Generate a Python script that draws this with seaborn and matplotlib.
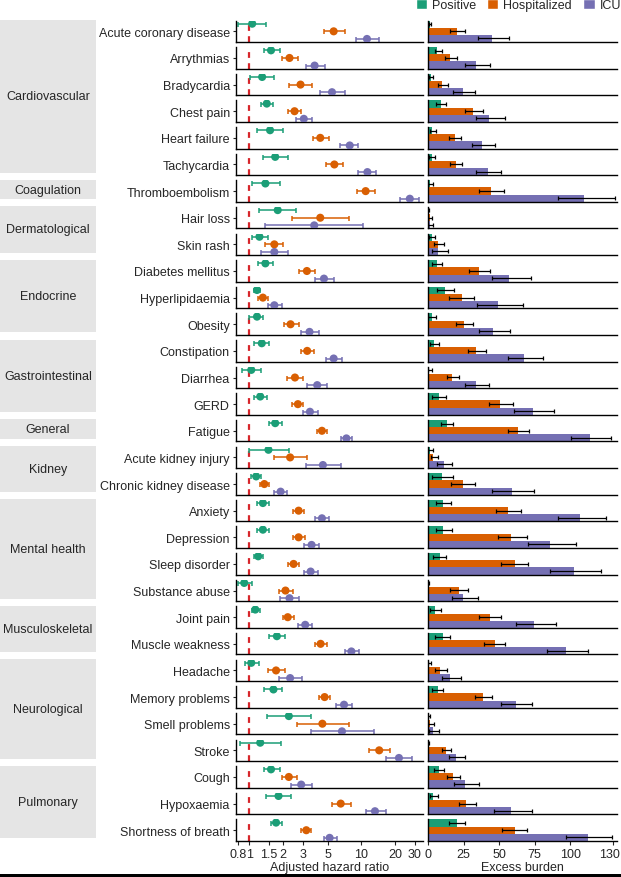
import matplotlib
matplotlib.use("Agg")
import matplotlib.pyplot as plt
import matplotlib.transforms as mtransforms
from matplotlib.patches import Patch, Rectangle
from matplotlib.ticker import NullLocator
import numpy as np
import pandas as pd
import seaborn as sns

# ---- data ----
categories = ["Cardiovascular"] * 6 + ["Coagulation"] + ["Dermatological"] * 2 + \
    ["Endocrine"] * 3 + ["Gastrointestinal"] * 3 + ["General"] + ["Kidney"] * 2 + \
    ["Mental health"] * 4 + ["Musculoskeletal"] * 2 + ["Neurological"] * 4 + ["Pulmonary"] * 3
conditions = ["Acute coronary disease", "Arrythmias", "Bradycardia", "Chest pain",
              "Heart failure", "Tachycardia", "Thromboembolism", "Hair loss", "Skin rash",
              "Diabetes mellitus", "Hyperlipidaemia", "Obesity", "Constipation", "Diarrhea",
              "GERD", "Fatigue", "Acute kidney injury", "Chronic kidney disease", "Anxiety",
              "Depression", "Sleep disorder", "Substance abuse", "Joint pain",
              "Muscle weakness", "Headache", "Memory problems", "Smell problems", "Stroke",
              "Cough", "Hypoxaemia", "Shortness of breath"]
groups = ["Positive", "Hospitalized", "ICU"]

hr_pos = [1.06, 1.56, 1.30, 1.43, 1.53, 1.70, 1.39, 1.79, 1.23, 1.39, 1.17, 1.17, 1.29, 1.04, 1.25,
          1.70, 1.48, 1.15, 1.32, 1.32, 1.20, 0.90, 1.13, 1.76, 1.04, 1.64, 2.25, 1.25, 1.56, 1.82, 1.73]
pos_lo = [0.79, 1.34, 1.01, 1.27, 1.16, 1.32, 1.05, 1.23, 1.05, 1.20, 1.09, 1.00, 1.11, 0.86, 1.11,
          1.49, 1.00, 1.04, 1.17, 1.17, 1.11, 0.79, 1.05, 1.51, 0.92, 1.36, 1.43, 0.83, 1.34, 1.41, 1.56]
pos_hi = [1.41, 1.86, 1.67, 1.62, 1.99, 2.20, 1.86, 2.62, 1.46, 1.62, 1.25, 1.33, 1.51, 1.26, 1.43,
          1.95, 2.25, 1.27, 1.49, 1.51, 1.32, 1.06, 1.25, 2.09, 1.21, 1.96, 3.57, 1.92, 1.86, 2.36, 1.95]

hr_hosp = [5.65, 2.28, 2.86, 2.53, 4.29, 5.73, 10.9, 4.29, 1.67, 3.26, 1.32, 2.33, 3.28, 2.55, 2.71,
           4.44, 2.31, 1.36, 2.75, 2.75, 2.48, 2.10, 2.20, 4.32, 1.73, 4.69, 4.48, 14.4, 2.25, 6.53, 3.22]
hosp_lo = [4.6, 1.96, 2.28, 2.23, 3.69, 4.86, 9.1, 2.41, 1.39, 2.80, 1.19, 2.03, 2.90, 2.17, 2.39,
           4.0, 1.65, 1.25, 2.44, 2.44, 2.23, 1.82, 1.99, 3.87, 1.48, 4.18, 2.65, 11.6, 1.95, 5.46, 2.90]
hosp_hi = [7.1, 2.71, 3.64, 2.86, 5.13, 6.84, 13.2, 7.7, 1.99, 3.82, 1.46, 2.75, 3.76, 3.0, 3.04,
           4.92, 3.26, 1.51, 3.06, 3.11, 2.75, 2.44, 2.48, 4.92, 2.10, 5.28, 7.7, 17.9, 2.65, 8.02, 3.57]

hr_icu = [11.2, 3.82, 5.46, 3.06, 7.86, 11.3, 27.0, 3.79, 1.67, 4.63, 1.67, 3.44, 5.65, 4.03, 3.47,
          7.34, 4.53, 1.90, 4.44, 3.59, 3.52, 2.28, 3.15, 8.13, 2.31, 6.99, 6.70, 21.6, 2.90, 13.2, 5.2]
icu_lo = [9.0, 3.17, 4.23, 2.62, 6.4, 9.3, 22.0, 1.38, 1.26, 3.82, 1.46, 2.90, 4.79, 3.28, 3.0,
          6.62, 3.17, 1.65, 3.87, 3.06, 3.06, 1.86, 2.71, 7.1, 1.83, 5.97, 3.52, 16.7, 2.33, 10.9, 4.63]
icu_hi = [14.3, 4.69, 7.1, 3.61, 9.4, 13.6, 32.8, 10.3, 2.23, 5.69, 1.95, 4.18, 6.66, 4.92, 4.09,
          8.3, 6.53, 2.17, 5.10, 4.18, 4.09, 2.80, 3.61, 9.45, 2.96, 8.24, 12.9, 28.4, 3.61, 16.4, 6.05]

bur_pos = [1.4, 6.6, 1.9, 9.0, 2.6, 2.6, 1.2, 0.5, 2.6, 6.1, 12.0, 3.1, 4.2, 0.9, 7.8,
           13.2, 1.2, 10.1, 10.6, 10.6, 8.4, 0.7, 4.8, 10.8, 0.7, 6.7, 0.7, 0.5, 7.9, 3.6, 20.3]
bur_pos_lo = [0.5, 4.7, 0.7, 5.4, 1.2, 0.7, 0.2, 0.0, 0.7, 2.6, 6.1, 0.2, 1.4, 0.2, 2.6,
              8.9, 0.2, 3.1, 5.4, 5.4, 3.8, 0.0, 1.2, 4.8, 0.2, 3.1, 0.0, 0.0, 4.3, 1.4, 15.1]
bur_pos_hi = [2.2, 10.1, 3.8, 13.0, 5.4, 4.7, 3.5, 0.7, 4.7, 9.7, 18.4, 5.9, 7.8, 2.6, 12.5,
              17.7, 3.5, 17.9, 16.0, 16.7, 12.7, 0.7, 9.1, 15.6, 2.4, 10.3, 1.4, 0.7, 11.5, 6.7, 25.8]

bur_hosp = [20.7, 15.5, 10.1, 31.8, 18.8, 19.5, 44.3, 1.2, 7.3, 36.0, 23.6, 25.4, 34.1, 17.2, 50.9,
            63.1, 3.8, 24.7, 56.0, 58.4, 61.0, 21.8, 43.3, 46.9, 8.6, 39.0, 1.4, 12.7, 17.5, 27.0, 61.0]
bur_hosp_lo = [15.5, 11.8, 7.3, 26.1, 14.8, 15.5, 36.0, 0.2, 4.2, 29.0, 14.8, 19.5, 28.3, 13.2, 42.6,
               56.0, 1.9, 16.5, 47.8, 49.5, 51.7, 15.8, 35.9, 39.7, 5.0, 33.0, 0.2, 9.8, 13.2, 21.5, 52.2]
bur_hosp_hi = [26.1, 20.3, 14.4, 38.9, 23.1, 23.8, 53.7, 3.0, 11.3, 43.8, 32.5, 32.0, 40.7, 21.9, 59.6,
               70.9, 7.1, 33.2, 65.5, 69.5, 70.6, 27.8, 51.4, 54.5, 13.2, 45.0, 4.3, 16.3, 22.7, 33.7, 69.6]

bur_icu = [45.0, 33.7, 24.3, 43.1, 37.9, 41.9, 109.7, 1.4, 7.3, 57.2, 49.5, 45.9, 67.8, 33.7, 73.7,
           113.7, 11.3, 59.1, 107.2, 86.2, 102.9, 24.6, 74.9, 97.1, 15.8, 62.2, 3.6, 19.9, 26.3, 58.6, 112.4]
bur_icu_lo = [35.3, 25.9, 17.7, 33.7, 30.9, 34.1, 91.4, 0.2, 2.6, 44.7, 34.4, 36.0, 56.0, 25.9, 60.3,
              100.3, 6.1, 44.7, 91.4, 70.2, 86.1, 16.7, 61.7, 83.7, 9.8, 51.7, 0.7, 15.1, 18.2, 46.7, 97.1]
bur_icu_hi = [57.2, 43.6, 33.0, 54.4, 47.1, 51.3, 131.4, 3.8, 14.1, 72.5, 66.6, 57.7, 80.8, 43.1, 89.0,
              129.0, 17.2, 74.9, 125.0, 103.9, 121.5, 34.9, 90.4, 112.4, 23.0, 73.2, 7.9, 26.3, 35.9, 73.0, 129.2]

hr_ticks = [0.8, 1, 1.5, 2, 3, 5, 10, 20, 30]
hr_tick_labels = ["0.8", "1", "1.5", "2", "3", "5", "10", "20", "30"]
bur_ticks = [0, 25, 50, 75, 100, 130]

palette = {"Positive": "#1b9e77", "Hospitalized": "#d95f02", "ICU": "#7570b3"}

# long tables built from the lists above
hr_df = pd.DataFrame({
    "condition": np.repeat(conditions, 3),
    "group": groups * len(conditions),
    "hr": np.column_stack([hr_pos, hr_hosp, hr_icu]).ravel(),
    "lo": np.column_stack([pos_lo, hosp_lo, icu_lo]).ravel(),
    "hi": np.column_stack([pos_hi, hosp_hi, icu_hi]).ravel(),
})
bur_df = pd.DataFrame({
    "condition": np.repeat(conditions, 3),
    "group": groups * len(conditions),
    "burden": np.column_stack([bur_pos, bur_hosp, bur_icu]).ravel(),
    "lo": np.column_stack([bur_pos_lo, bur_hosp_lo, bur_icu_lo]).ravel(),
    "hi": np.column_stack([bur_pos_hi, bur_hosp_hi, bur_icu_hi]).ravel(),
})
gpos = {g: k for k, g in enumerate(groups)}

sns.set_style("white")
plt.rcParams["font.family"] = ["Liberation Sans", "DejaVu Sans"]
plt.rcParams["font.size"] = 9

W, H = 621, 878
fig = plt.figure(figsize=(W / 100, H / 100), dpi=100)

FIRST_BOTTOM = 43.0   # px of first row's baseline
PITCH = 26.63         # px between rows
ROW_H = 21.5          # px height of each row panel

n = len(conditions)
for i, cond in enumerate(conditions):
    yb = FIRST_BOTTOM + i * PITCH
    bottom = 1 - yb / H
    axL = fig.add_axes([236 / W, bottom, 187 / W, ROW_H / H])
    axR = fig.add_axes([428 / W, bottom, 189 / W, ROW_H / H])

    # hazard ratio panel
    d = hr_df[hr_df["condition"] == cond].copy()
    d["y"] = d["group"].map(gpos)
    axL.set_xscale("log")
    axL.axvline(1, color="#d7262b", ls=(0, (2.6, 2.4)), lw=1.6, zorder=1)
    for _, r in d.iterrows():
        axL.errorbar(r["hr"], r["y"], xerr=[[r["hr"] - r["lo"]], [r["hi"] - r["hr"]]],
                     fmt="none", ecolor=palette[r["group"]], elinewidth=1.1,
                     capsize=1.8, capthick=1.1, zorder=2)
    sns.scatterplot(data=d, x="hr", y="y", hue="group", palette=palette, s=34,
                    linewidth=0, legend=False, ax=axL, zorder=3)
    axL.set_xlim(0.76, 35.4)
    axL.set_ylim(2.4, -0.42)
    axL.set_yticks([1])
    axL.set_yticklabels([cond])
    axL.xaxis.set_minor_locator(NullLocator())

    # excess burden panel
    b = bur_df[bur_df["condition"] == cond]
    sns.barplot(data=b, x="burden", y="group", hue="group", order=groups, hue_order=groups,
                palette=palette, width=1, saturation=1, linewidth=0, errorbar=None,
                legend=False, ax=axR)
    axR.errorbar(b["burden"], [gpos[g] for g in b["group"]],
                 xerr=[b["burden"] - b["lo"], b["hi"] - b["burden"]],
                 fmt="none", ecolor="black", elinewidth=0.9, capsize=1.5, capthick=0.9, zorder=3)
    axR.set_xlim(0, 133)
    axR.set_ylim(2.5, -0.5)
    axR.set_yticks([])

    for ax in (axL, axR):
        ax.set_xlabel("")
        ax.set_ylabel("")
        ax.patch.set_alpha(0)
        sns.despine(ax=ax)
        for s in ("left", "bottom"):
            ax.spines[s].set_linewidth(1.0)
            ax.spines[s].set_color("black")
        ax.tick_params(axis="y", length=2.5, width=0.8, pad=2, labelsize=9, left=True)

    if i == n - 1:
        axL.set_xticks(hr_ticks)
        axL.set_xticklabels(hr_tick_labels)
        axR.set_xticks(bur_ticks)
        for ax in (axL, axR):
            ax.tick_params(axis="x", length=3, width=0.8, pad=2, labelsize=9, bottom=True)
        # nudge the last label so it stays inside the figure
        last = axR.get_xticklabels()[-1]
        last.set_transform(last.get_transform() +
                           mtransforms.ScaledTranslation(-3 / 100, 0, fig.dpi_scale_trans))
        axL.set_xlabel("Adjusted hazard ratio", labelpad=1)
        axR.set_xlabel("Excess burden", labelpad=1)
    else:
        axL.set_xticks([])
        axR.set_xticks([])

# grey category boxes on the left
for cat in dict.fromkeys(categories):
    idx = [k for k, c in enumerate(categories) if c == cat]
    top = FIRST_BOTTOM + idx[0] * PITCH - ROW_H - 0.5
    bot = FIRST_BOTTOM + idx[-1] * PITCH - 2.5
    fig.add_artist(Rectangle((0, 1 - bot / H), 96 / W, (bot - top) / H,
                             transform=fig.transFigure, color="#e5e5e5", lw=0))
    fig.text(48 / W, 1 - (top + bot) / 2 / H, cat, ha="center", va="center", fontsize=9)

# legend at the top right
handles = [Patch(facecolor=palette[g], label=g) for g in groups]
fig.legend(handles=handles, loc="center right", bbox_to_anchor=(1.0, 1 - 6 / H), ncol=3,
           frameon=False, handlelength=0.9, handleheight=0.9, handletextpad=0.4,
           columnspacing=0.9, fontsize=9, borderaxespad=0, borderpad=0)

# black rule along the bottom edge
fig.add_artist(Rectangle((0, 0), 1, 3 / H, transform=fig.transFigure, color="black", lw=0))

fig.savefig("out.png", dpi=100)
